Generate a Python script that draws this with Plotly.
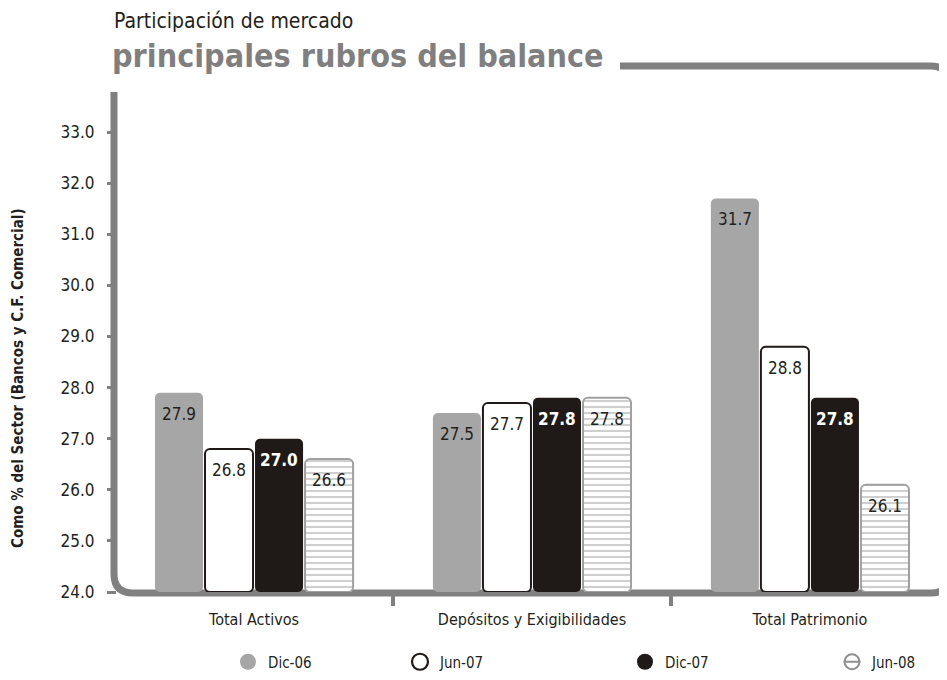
import plotly.graph_objects as go

categories = ["Total Activos", "Depósitos y Exigibilidades", "Total Patrimonio"]
series_names = ["Dic-06", "Jun-07", "Dic-07", "Jun-08"]
dic06 = [27.9, 27.5, 31.7]
jun07 = [26.8, 27.7, 28.8]
dic07 = [27.0, 27.8, 27.8]
jun08 = [26.6, 27.8, 26.1]
y_ticks = [24.0, 25.0, 26.0, 27.0, 28.0, 29.0, 30.0, 31.0, 32.0, 33.0]

FONT = "'Liberation Sans Narrow', 'Arial Narrow', 'DejaVu Sans Condensed', 'Roboto Condensed', 'Liberation Sans', Arial, sans-serif"
DARK = "#231f20"
GREY = "#808080"

# page has an 8px body margin; figure sized to fill the rest of the window
OFF = 8
W, H = 947 - OFF, 680 - OFF
PL, PR, PT, PB = 117, 940, 80, 592          # plot area in window pixels
L, R, T, B = PL - OFF, W - (PR - OFF), PT - OFF, H - (PB - OFF)
PW, PH = W - L - R, H - T - B


def px_x(x):
    return (x - PL) / PW


def px_y(y):
    return (PB - y) / PH


def pp(x, y):
    return f"{px_x(x):.5f},{px_y(y):.5f}"


styles = [
    dict(marker=dict(color="#a6a6a6", line=dict(color="#a6a6a6", width=0)),
         tcolor=DARK, bold=False),
    dict(marker=dict(color="white", line=dict(color="#1f1a17", width=2)),
         tcolor=DARK, bold=False),
    dict(marker=dict(color="#1f1a17", line=dict(color="#1f1a17", width=0)),
         tcolor="white", bold=True),
    dict(marker=dict(color="white", line=dict(color="#a0a0a0", width=2),
                     pattern=dict(shape="-", fgcolor="#a0a0a0", bgcolor="white",
                                  size=6, solidity=0.35)),
         tcolor=DARK, bold=False),
]

fig = go.Figure()
all_series = [dic06, jun07, dic07, jun08]
annotations = []
for j, (name, vals, st) in enumerate(zip(series_names, all_series, styles)):
    m = dict(st["marker"])
    m["cornerradius"] = 5
    fig.add_trace(go.Bar(x=categories, y=[v - 24.0 for v in vals], base=24.0,
                         name=name, marker=m, showlegend=False,
                         hoverinfo="skip"))
    off = -0.27 + 0.18 * j
    for i, v in enumerate(vals):
        txt = f"{v:.1f}"
        if st["bold"]:
            txt = f"<b>{txt}</b>"
        annotations.append(dict(x=i + off, y=v, xref="x", yref="y", text=txt,
                                showarrow=False, yshift=-21, yanchor="middle",
                                xanchor="center",
                                font=dict(family=FONT, size=17, color=st["tcolor"])))

# legend entries (circle markers)
leg_markers = [
    dict(symbol="circle", size=17, color="#a6a6a6", line=dict(width=0)),
    dict(symbol="circle-open", size=16, color="#1f1a17", line=dict(width=2.2, color="#1f1a17")),
    dict(symbol="circle", size=17, color="#1f1a17", line=dict(width=0)),
    dict(symbol="circle-open", size=15, color="#909090", line=dict(width=2, color="#909090")),
]
leg_centers = [248, 420, 645, 852]
leg_keys = ["legend", "legend2", "legend3", "legend4"]
for name, mk, key in zip(series_names, leg_markers, leg_keys):
    fig.add_trace(go.Scatter(x=[None], y=[None], mode="markers", name=name,
                             marker=mk, legend=key, showlegend=True))
# horizontal bar inside Jun-08 circle
fig.add_trace(go.Scatter(x=[None], y=[None], mode="markers", name=" ",
                         marker=dict(symbol="line-ew-open", size=12, color="#909090",
                                     line=dict(width=2, color="#909090")),
                         legend="legend5", showlegend=True))

legend_y = px_y(662)
leg_layout = {}
for key, c in zip(leg_keys + ["legend5"], leg_centers + [852]):
    leg_layout[key] = dict(x=px_x(c - 20), y=legend_y, xanchor="left",
                           yanchor="middle", orientation="h",
                           bgcolor="rgba(0,0,0,0)",
                           font=dict(family=FONT, size=15, color=DARK),
                           itemsizing="trace")

# frame path (rounded, open at top-left)
path = ("M " + pp(114, 92) + " L " + pp(114, 574) + " Q " + pp(114, 593) + " " + pp(133, 593)
        + " L " + pp(931, 593) + " Q " + pp(949, 593) + " " + pp(949, 575)
        + " L " + pp(949, 84) + " Q " + pp(949, 66) + " " + pp(931, 66)
        + " L " + pp(620, 66))
shapes = [dict(type="path", xref="paper", yref="paper", path=path,
               line=dict(color=GREY, width=7), layer="below")]

annotations += [
    dict(x=px_x(112), y=px_y(7), xref="paper", yref="paper",
         xanchor="left", yanchor="top", showarrow=False,
         text="Participación de mercado",
         font=dict(family=FONT, size=21, color=DARK)),
    dict(x=px_x(110), y=px_y(35), xref="paper", yref="paper",
         xanchor="left", yanchor="top", showarrow=False,
         text="<b>principales rubros del balance</b>",
         font=dict(family=FONT, size=32, color="#7f7f7f")),
    dict(x=px_x(18), y=px_y(378), xref="paper", yref="paper",
         xanchor="center", yanchor="middle", showarrow=False, textangle=-90,
         text="<b>Como % del Sector (Bancos y C.F. Comercial)</b>",
         font=dict(family=FONT, size=15, color=DARK)),
]

fig.update_layout(
    width=W, height=H,
    margin=dict(l=L, r=R, t=T, b=B, autoexpand=False),
    paper_bgcolor="white", plot_bgcolor="white",
    barmode="group", bargap=0.28, bargroupgap=0.04,
    font=dict(family=FONT, size=16, color=DARK),
    shapes=shapes, annotations=annotations,
    **leg_layout,
)
fig.update_xaxes(type="category", range=[-0.493, 2.468], showgrid=False,
                 zeroline=False, showline=False, ticks="outside",
                 tickson="boundaries", ticklen=13, tickwidth=4, tickcolor=GREY,
                 ticklabelstandoff=16,
                 tickfont=dict(family=FONT, size=16, color=DARK))
fig.update_yaxes(range=[24.0, 24.0 + PH / 51.11], tickvals=y_ticks,
                 ticktext=[f"{v:.1f}" for v in y_ticks], showgrid=False,
                 zeroline=False, showline=False, ticks="outside", ticklen=9,
                 tickwidth=3, tickcolor=GREY, ticklabelstandoff=9,
                 tickfont=dict(family=FONT, size=17, color=DARK))

fig.write_html("out.html")
